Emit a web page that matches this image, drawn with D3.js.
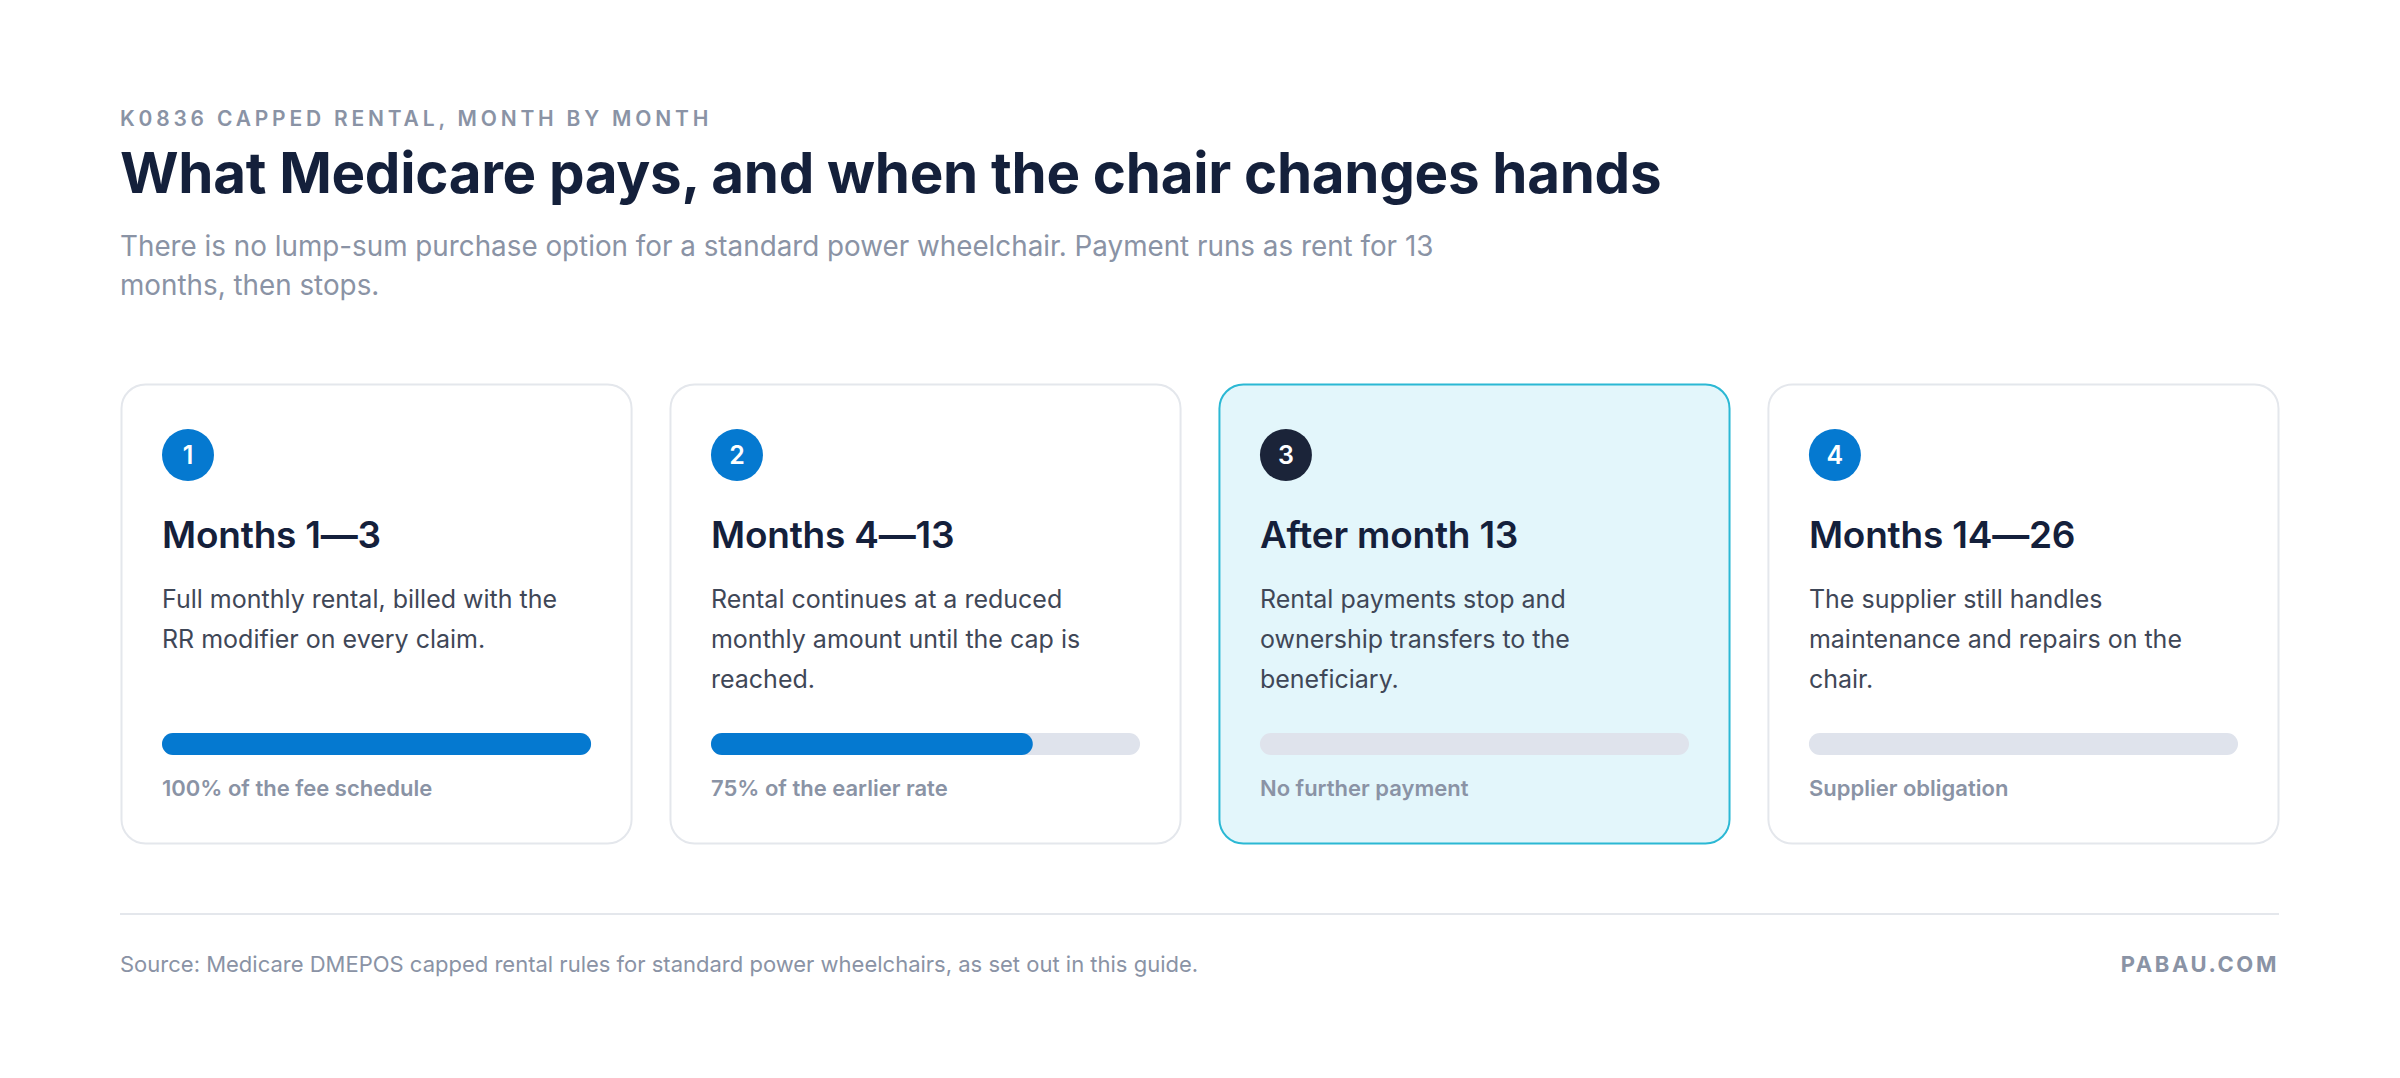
<!DOCTYPE html>
<html>
<head>
<meta charset="utf-8">
<script src="https://cdn.jsdelivr.net/npm/d3@7"></script>
<style>
  body { margin: 0; background: #fff; }
  svg { display: block; font-family: Inter, "Noto Sans", sans-serif; }
</style>
</head>
<body>
<svg id="chart" width="2400" height="1078"></svg>
<script>
// values
let steps = ["1", "2", "3", "4"];
let titles = ["Months 1\u20143", "Months 4\u201413", "After month 13", "Months 14\u201426"];
let descriptions = [
  ["Full monthly rental, billed with the", "RR modifier on every claim."],
  ["Rental continues at a reduced", "monthly amount until the cap is", "reached."],
  ["Rental payments stop and", "ownership transfers to the", "beneficiary."],
  ["The supplier still handles", "maintenance and repairs on the", "chair."]
];
let shares = [1, 0.75, 0, 0];
let labels = ["100% of the fee schedule", "75% of the earlier rate", "No further payment", "Supplier obligation"];
let highlighted = [false, false, true, false];

let svg = d3.select("#chart");
let left = 120, right = 2279;

svg.append("text")
  .attr("x", left).attr("y", 126)
  .attr("font-size", 21).attr("font-weight", 600)
  .attr("letter-spacing", 3.8).attr("fill", "#8a93a5")
  .text("K0836 CAPPED RENTAL, MONTH BY MONTH");

svg.append("text")
  .attr("x", left).attr("y", 193)
  .attr("font-size", 56.5).attr("font-weight", 700)
  .attr("letter-spacing", -0.3).attr("fill", "#14203b")
  .text("What Medicare pays, and when the chair changes hands");

let sub = ["There is no lump-sum purchase option for a standard power wheelchair. Payment runs as rent for 13", "months, then stops."];
svg.selectAll(".sub").data(sub).enter().append("text")
  .attr("x", left).attr("y", (d, i) => 256 + i * 39)
  .attr("font-size", 27.8).attr("fill", "#8a93a5")
  .text(d => d);

let x = d3.scaleBand().domain(steps).range([121, 2279]).paddingInner(0.069).paddingOuter(0);
let cw = x.bandwidth();
let cardTop = 384, ch = 459;
let barW = d3.scaleLinear().domain([0, 1]).range([0, cw - 82]);

let cards = svg.selectAll(".card").data(steps).enter().append("g")
  .attr("transform", d => `translate(${x(d)},${cardTop})`);

cards.append("rect")
  .attr("x", 0.5).attr("y", 0.5)
  .attr("width", cw - 1).attr("height", ch)
  .attr("rx", 24)
  .attr("fill", (d, i) => highlighted[i] ? "#e3f6fb" : "#fff")
  .attr("stroke", (d, i) => highlighted[i] ? "#2bb8d4" : "#e4e7ec")
  .attr("stroke-width", 2);

cards.append("circle")
  .attr("cx", 67).attr("cy", 71).attr("r", 26)
  .attr("fill", (d, i) => highlighted[i] ? "#1b2439" : "#0579d0");

cards.append("text")
  .attr("x", 67).attr("y", 80)
  .attr("text-anchor", "middle")
  .attr("font-size", 25).attr("font-weight", 600).attr("fill", "#fff")
  .text(d => d);

cards.append("text")
  .attr("x", 41).attr("y", 164)
  .attr("font-size", 37).attr("font-weight", 600).attr("fill", "#14203b")
  .attr("letter-spacing", -0.2)
  .text((d, i) => titles[i]);

cards.each(function (d, i) {
  d3.select(this).selectAll(".desc").data(descriptions[i]).enter().append("text")
    .attr("x", 41).attr("y", (t, j) => 224 + j * 40)
    .attr("font-size", 25).attr("fill", "#3f4757")
    .text(t => t);
});

cards.append("rect")
  .attr("x", 41).attr("y", 349)
  .attr("width", barW(1)).attr("height", 22).attr("rx", 11)
  .attr("fill", "#dfe3ec");

cards.append("rect")
  .attr("x", 41).attr("y", 349)
  .attr("width", (d, i) => barW(shares[i])).attr("height", 22).attr("rx", 11)
  .attr("fill", "#0579d0");

cards.append("text")
  .attr("x", 41).attr("y", 412)
  .attr("font-size", 22).attr("font-weight", 600).attr("fill", "#8a93a5")
  .text((d, i) => labels[i]);

svg.append("line")
  .attr("x1", left).attr("x2", right).attr("y1", 914).attr("y2", 914)
  .attr("stroke", "#e4e7ec").attr("stroke-width", 2);

svg.append("text")
  .attr("x", left).attr("y", 972)
  .attr("font-size", 22).attr("fill", "#8a93a5")
  .text("Source: Medicare DMEPOS capped rental rules for standard power wheelchairs, as set out in this guide.");

svg.append("text")
  .attr("x", right).attr("y", 972)
  .attr("text-anchor", "end")
  .attr("font-size", 22).attr("font-weight", 700)
  .attr("letter-spacing", 2.6).attr("fill", "#8a93a5")
  .text("PABAU.COM");
</script>
</body>
</html>
